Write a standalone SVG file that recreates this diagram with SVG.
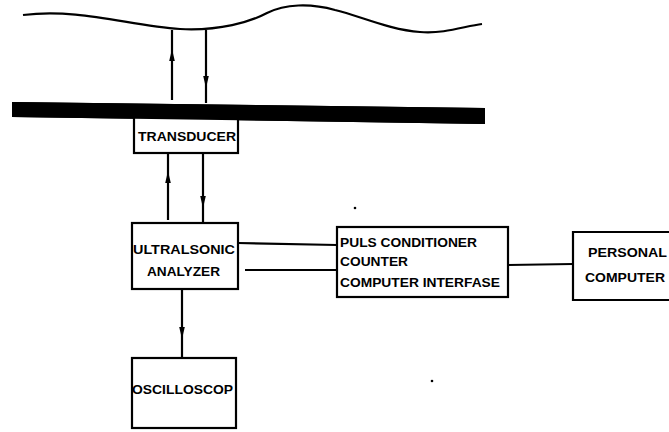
<svg xmlns="http://www.w3.org/2000/svg" width="669" height="432" viewBox="0 0 669 432">
<style>
.box{fill:#fff;stroke:#000;stroke-width:2.2}
.ln{fill:none;stroke:#000;stroke-width:2.2}
.t{font-family:"Liberation Sans",Arial,sans-serif;font-weight:bold;font-size:13px;fill:#000}
</style>
<defs>
<marker id="ah" viewBox="0 0 12 7" refX="6" refY="3.5" markerWidth="12" markerHeight="7" markerUnits="userSpaceOnUse" orient="auto">
<path d="M0,0.7 L12,3.5 L0,6.3 Z" fill="#000"/>
</marker>
</defs>
<g id="surface">
<path class="ln" d="M23,15 C80,8 130,26 180,29 C220,31 250,22 267,13 C285,4 310,3 335,10 C360,16 390,30 420,32 C445,34 465,26 482,24"/>
</g>
<g id="wall">
<polygon points="12,102 485,108 485,124 12,117" fill="#000"/>
<circle cx="313" cy="116" r="1.6" fill="#fff"/>
</g>
<g id="connectors">
<path class="ln" d="M172,100 L172,55 L172,30" marker-mid="url(#ah)"/>
<path class="ln" d="M206,30 L206,82 L206,103" marker-mid="url(#ah)"/>
<path class="ln" d="M168,220 L168,177 L168,153" marker-mid="url(#ah)"/>
<path class="ln" d="M203,153 L203,202 L203,223" marker-mid="url(#ah)"/>
<path class="ln" d="M238,243 L337,245"/>
<path class="ln" d="M245,270 L337,270"/>
<path class="ln" d="M508,265 L573,264"/>
<path class="ln" d="M182,289 L182,333 L182,358" marker-mid="url(#ah)"/>
</g>
<g id="transducer">
<rect class="box" x="134" y="112" width="104" height="41"/>
<polygon points="12,102 485,108 485,124 12,117" fill="#000"/>
<text class="t" x="138" y="141" textLength="98" lengthAdjust="spacingAndGlyphs">TRANSDUCER</text>
</g>
<g id="analyzer">
<rect class="box" x="132" y="223" width="106" height="66"/>
<text class="t" x="133" y="254" textLength="102" lengthAdjust="spacingAndGlyphs">ULTRALSONIC</text>
<text class="t" x="147" y="276" textLength="73" lengthAdjust="spacingAndGlyphs">ANALYZER</text>
</g>
<g id="conditioner">
<rect class="box" x="337" y="227" width="171" height="70"/>
<text class="t" x="340" y="247" textLength="137" lengthAdjust="spacingAndGlyphs">PULS CONDITIONER</text>
<text class="t" x="340" y="266" textLength="68" lengthAdjust="spacingAndGlyphs">COUNTER</text>
<text class="t" x="340" y="287" textLength="160" lengthAdjust="spacingAndGlyphs">COMPUTER INTERFASE</text>
</g>
<g id="pc">
<path class="ln" d="M680,232 L573,232 L573,300 L680,300"/>
<text class="t" x="588" y="257" textLength="79" lengthAdjust="spacingAndGlyphs">PERSONAL</text>
<text class="t" x="585" y="282" textLength="80" lengthAdjust="spacingAndGlyphs">COMPUTER</text>
</g>
<g id="oscilloscope">
<rect class="box" x="132" y="358" width="104" height="70"/>
<text class="t" x="132" y="394" textLength="101" lengthAdjust="spacingAndGlyphs">OSCILLOSCOP</text>
</g>
<circle cx="355" cy="208" r="1.3" fill="#000"/>
<circle cx="432" cy="381" r="1.3" fill="#000"/>
</svg>
